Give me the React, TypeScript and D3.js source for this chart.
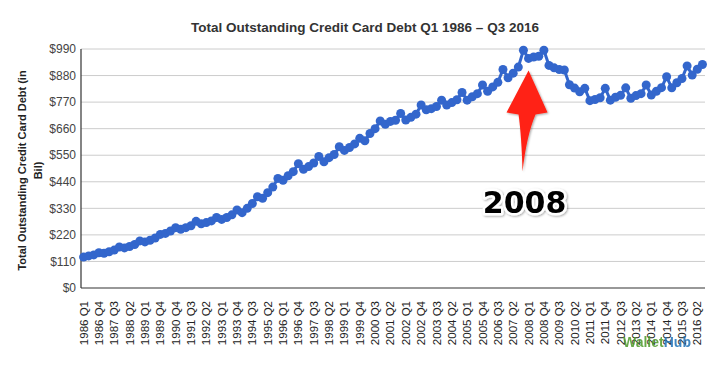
import React from 'react';
import * as d3 from 'd3';

// quarters shown on the chart (1990 Q1 is missing in the source series)
const years = d3.range(1986, 2017);
const quarters: string[] = [];
years.forEach(yr => {
  ['Q1', 'Q2', 'Q3', 'Q4'].forEach(q => {
    if (yr === 1990 && q === 'Q1') return;
    if (yr === 2016 && q === 'Q4') return;
    quarters.push(`${yr} ${q}`);
  });
});

// total outstanding credit card debt, $ billions
const debt = [
  128, 133, 137, 146, // 1986
  144, 150, 157, 170, // 1987
  166, 172, 180, 195, // 1988
  191, 198, 207, 222, // 1989
  226, 236, 250, // 1990
  243, 250, 258, 276, // 1991
  266, 271, 278, 292, // 1992
  284, 292, 303, 323, // 1993
  312, 330, 350, 378, // 1994
  372, 395, 418, 454, // 1995
  446, 465, 482, 515, // 1996
  492, 503, 518, 545, // 1997
  523, 540, 553, 585, // 1998
  570, 582, 597, 620, // 1999
  610, 640, 660, 692, // 2000
  678, 690, 695, 723, // 2001
  696, 707, 720, 758, // 2002
  738, 743, 752, 778, // 2003
  758, 768, 780, 810, // 2004
  778, 792, 805, 841, // 2005
  815, 833, 852, 905, // 2006
  871, 890, 915, 985, // 2007
  951, 957, 960, 985, // 2008
  922, 912, 905, 903, // 2009
  842, 828, 813, 827, // 2010
  776, 781, 788, 827, // 2011
  778, 790, 798, 829, // 2012
  786, 797, 805, 841, // 2013
  799, 815, 830, 875, // 2014
  829, 850, 868, 920, // 2015
  882, 906, 926, // 2016
];

const yTicks = [0, 110, 220, 330, 440, 550, 660, 770, 880, 990];

const W = 727;
const H = 372;
const margin = { top: 49, right: 22, bottom: 84, left: 81 };
const font = '"Liberation Sans", Arial, sans-serif';

const App = () => {
  const x = d3.scalePoint<string>()
    .domain(quarters)
    .range([margin.left, W - margin.right])
    .padding(0.5);

  const y = d3.scaleLinear()
    .domain([0, 990])
    .range([H - margin.bottom, margin.top]);

  const pts = quarters.map((q, i) => ({ q, v: debt[i] }));
  const line = d3.line<{ q: string; v: number }>()
    .x(d => x(d.q) as number)
    .y(d => y(d.v));

  // annotation anchored on 2008 Q1
  const ax = x('2008 Q1') as number;
  const ay = y(debt[quarters.indexOf('2008 Q1')]) + 12;
  const arrow = `M${ax},${ay} L${ax + 19},${ay + 42} L${ax + 7},${ay + 44}
    Q${ax - 2},${ay + 65} ${ax - 6},${ay + 101}
    Q${ax - 7},${ay + 65} ${ax - 10},${ay + 44} L${ax - 22},${ay + 42} Z`;

  return (
    <svg width={W} height={H} style={{ position: 'absolute', left: 0, top: 0, background: '#fff' }}
      fontFamily={font}>
      <defs>
        <filter id="shadow" x="-20%" y="-20%" width="140%" height="140%">
          <feDropShadow dx="1" dy="1" stdDeviation="1" floodColor="#000" floodOpacity="0.35" />
        </filter>
      </defs>

      <text x={365} y={32} textAnchor="middle" fontSize={13.5} fontWeight="bold" fill="#333">
        Total Outstanding Credit Card Debt Q1 1986 – Q3 2016
      </text>

      {/* gridlines + y labels */}
      {yTicks.map(t => (
        <g key={t}>
          {t > 0 && (
            <line x1={margin.left} x2={W - margin.right} y1={y(t)} y2={y(t)} stroke="#ccc" strokeWidth={1} />
          )}
          <text x={76} y={y(t)} dy="0.35em" textAnchor="end" fontSize={12} fill="#444">
            ${t}
          </text>
        </g>
      ))}

      <text transform={`translate(22,${(y(0) + y(990)) / 2 + 2}) rotate(-90)`} textAnchor="middle"
        fontSize={11} fontWeight="bold" fill="#222" dy="0.35em">
        Total Outstanding Credit Card Debt (in
      </text>
      <text transform={`translate(38,${(y(0) + y(990)) / 2 + 2}) rotate(-90)`} textAnchor="middle"
        fontSize={11} fontWeight="bold" fill="#222" dy="0.35em">
        Bil)
      </text>

      {/* axes */}
      <line x1={margin.left} x2={margin.left} y1={y(990)} y2={y(0)} stroke="#333" strokeWidth={1.2} />
      <line x1={margin.left} x2={W - margin.right} y1={y(0)} y2={y(0)} stroke="#333" strokeWidth={1.2} />

      {/* x labels every 3rd quarter */}
      {quarters.filter((_, i) => i % 3 === 0).map(q => (
        <text key={q} transform={`translate(${x(q)},${y(0) + 13}) rotate(-90)`} dy="0.35em"
          textAnchor="end" fontSize={11.5} fill="#222">
          {q}
        </text>
      ))}

      {/* series */}
      <path d={line(pts) || ''} fill="none" stroke="#3366cc" strokeWidth={3} strokeLinejoin="round" />
      {pts.map(d => (
        <circle key={d.q} cx={x(d.q)} cy={y(d.v)} r={4.5} fill="#3366cc" />
      ))}

      {/* annotation */}
      <path d={arrow} fill="#ff2414" filter="url(#shadow)" />
      <text x={ax - 4} y={ay + 143} textAnchor="middle" fontFamily='"DejaVu Sans", sans-serif'
        fontSize={30} fontWeight="bold" fill="#000" stroke="#fff" strokeWidth={5}
        strokeLinejoin="round" paintOrder="stroke" filter="url(#shadow)">
        2008
      </text>

      {/* watermark */}
      <text x={623} y={347} fontSize={14} fontWeight="bold" opacity={0.85}>
        <tspan fill="#4e9a2a">Wallet</tspan>
        <tspan fill="#2274b8">Hub</tspan>
      </text>
    </svg>
  );
};

export default App;
